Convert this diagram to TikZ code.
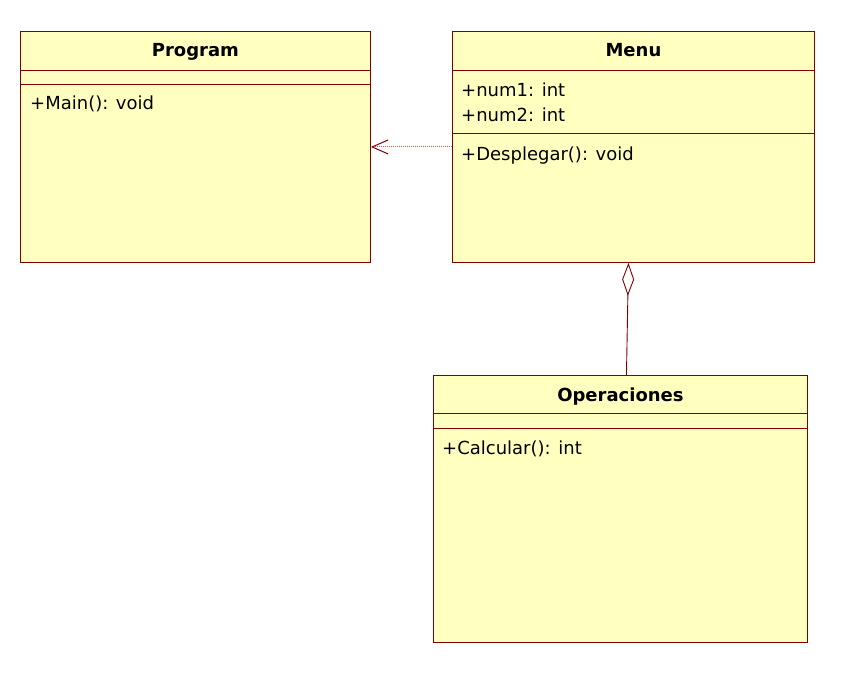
\documentclass[tikz,border=0pt]{standalone}
\usepackage{fontspec}
\setmainfont{DejaVu Sans}
\usetikzlibrary{arrows.meta}
\definecolor{umlred}{RGB}{128,0,0}
\definecolor{umlfill}{RGB}{255,255,192}
\begin{document}
\begin{tikzpicture}[x=1pt,y=-1pt]
\tikzstyle{every node}+=[inner sep=0pt]
\tikzstyle{classbox}=[draw=umlred, fill=umlfill, line width=0.9pt, anchor=north west]
\tikzstyle{title}=[anchor=base, font=\fontsize{18}{25}\selectfont\bfseries]
\tikzstyle{member}=[anchor=base west, font=\fontsize{18}{25}\selectfont]
\tikzstyle{divider}=[draw=umlred, line width=0.9pt]
\useasboundingbox (0,0) rectangle (857,695);
% classes
\node [classbox, minimum width=350pt, minimum height=231pt] (program) at (20,31) {};
\node [classbox, minimum width=362pt, minimum height=231pt] (menu) at (452,31) {};
\node [classbox, minimum width=374pt, minimum height=267pt] (operaciones) at (433,375) {};
% compartments
\draw [divider] (program.west |- 0,70) -- (program.east |- 0,70);
\draw [divider] (program.west |- 0,84) -- (program.east |- 0,84);
\draw [divider] (menu.west |- 0,70) -- (menu.east |- 0,70);
\draw [divider] (menu.west |- 0,133) -- (menu.east |- 0,133);
\draw [divider] (operaciones.west |- 0,413) -- (operaciones.east |- 0,413);
\draw [divider] (operaciones.west |- 0,428) -- (operaciones.east |- 0,428);
% texts
\node [title] (programname) at (program.north |- 0,57) {Program};
\node [member] (main) at (30,110) {+Main(): void};
\node [title] (menuname) at (menu.north |- 0,57) {Menu};
\node [member] (num1) at (461,97) {+num1: int};
\node [member] (num2) at (461,122) {+num2: int};
\node [member] (desplegar) at (461,161) {+Desplegar(): void};
\node [title] (opname) at (operaciones.north |- 0,401) {Operaciones};
\node [member] (calcular) at (442,454) {+Calcular(): int};
% relations
\draw [umlred!60, line width=1pt, dash pattern=on 1.5pt off 0.5pt, -{Straight Barb[length=16pt,width=14pt,umlred]}] (menu.west) -- (program.east);
\draw [umlred, line width=0.9pt, {Diamond[open,length=33pt,width=12pt,fill=white]}-] ([xshift=-5pt]menu.south) -- ([xshift=6pt]operaciones.north);
\end{tikzpicture}
\end{document}
